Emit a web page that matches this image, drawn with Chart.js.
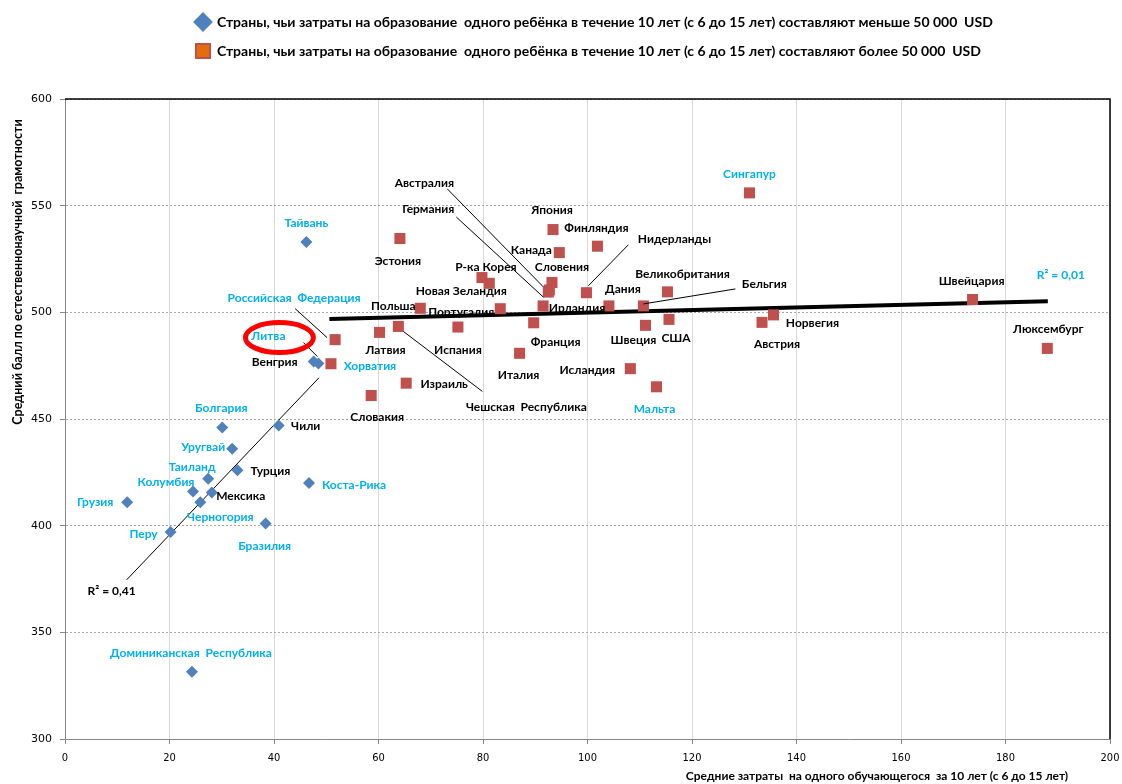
<!DOCTYPE html>
<html>
<head>
<meta charset="utf-8">
<script src="https://cdn.jsdelivr.net/npm/chart.js@4.4.1/dist/chart.umd.min.js"></script>
<style>
  html, body { margin: 0; padding: 0; background: #fff; }
  #wrap { width: 1122px; height: 784px; }
</style>
</head>
<body>
<div id="wrap"><canvas id="scatter"></canvas></div>
<script>
// Countries < 50 000 USD (blue diamonds)
const lowNames = ['Тайвань', 'Литва', 'Венгрия', 'Болгария', 'Чили', 'Уругвай', 'Турция', 'Таиланд',
  'Коста-Рика', 'Колумбия', 'Мексика', 'Черногория', 'Грузия', 'Бразилия', 'Перу', 'Доминиканская  Республика'];
const lowX = [46.2, 48.5, 47.6, 30.1, 40.9, 32.0, 33.0, 27.4, 46.7, 24.5, 28.1, 25.9, 11.9, 38.4, 20.2, 24.3];
const lowY = [533, 476, 477, 446, 447, 436, 426, 422, 420, 416, 415.5, 411, 411, 401, 397, 331.5];

// Countries > 50 000 USD (red squares)
const highNames = ['Сингапур', 'Эстония', 'Р-ка Корея', 'Новая Зеландия', 'Польша', 'Португалия',
  'Российская  Федерация', 'Латвия', 'Чешская  Республика', 'Испания', 'Хорватия', 'Израиль', 'Словакия',
  'Япония', 'Финляндия', 'Канада', 'Словения', 'Австралия', 'Германия', 'Ирландия', 'Нидерланды', 'Дания',
  'Бельгия', 'Великобритания', 'Франция', 'Швеция', 'США', 'Италия', 'Исландия', 'Мальта', 'Австрия',
  'Норвегия', 'Швейцария', 'Люксембург'];
const highX = [131.0, 64.1, 79.8, 81.2, 68.0, 83.3, 51.7, 60.2, 63.8, 75.2, 50.9, 65.3, 58.6,
  93.4, 101.9, 94.6, 93.2, 92.7, 92.5, 91.5, 99.8, 104.1, 110.7, 115.3, 89.7, 111.1, 115.6, 87.0, 108.2, 113.2, 133.4,
  135.6, 173.7, 188.0];
const highY = [556, 534.6, 516.3, 513.6, 501.9, 501.7, 487.2, 490.6, 493.4, 493.1, 475.9, 466.8, 461,
  538.8, 531, 528, 514, 510.5, 509.5, 503, 509.2, 503, 503, 509.6, 495.1, 493.9, 496.7, 480.8, 473.6, 465.1, 495.3,
  498.8, 506, 483.1];

// trend lines (end points)
const lowTrendX = [11.8, 48.6];
const lowTrendY = [374.6, 469.3];
const highTrendX = [50.6, 188.1];
const highTrendY = [496.9, 505.2];
const lowR2 = 'R² = 0,41';
const highR2 = 'R² = 0,01';

const xTicks = [0, 20, 40, 60, 80, 100, 120, 140, 160, 180, 200];
const yTicks = [300, 350, 400, 450, 500, 550, 600];

const legendTexts = [
  'Страны, чьи затраты на образование  одного ребёнка в течение 10 лет (с 6 до 15 лет) составляют меньше 50 000  USD',
  'Страны, чьи затраты на образование  одного ребёнка в течение 10 лет (с 6 до 15 лет) составляют более 50 000  USD'
];
const xTitle = 'Средние затраты  на одного обучающегося  за 10 лет (с 6 до 15 лет)';
const yTitle = 'Средний балл по естественнонаучной  грамотности';

const cyanLabels = ['Тайвань', 'Литва', 'Болгария', 'Уругвай', 'Таиланд', 'Коста-Рика', 'Колумбия', 'Черногория',
  'Грузия', 'Бразилия', 'Перу', 'Доминиканская  Республика', 'Сингапур', 'Российская  Федерация', 'Хорватия', 'Мальта'];

// label offsets from the marker, px
const labelOffsets = {
  'Тайвань': [0, -19], 'Литва': [-50, -27], 'Венгрия': [-39, 1], 'Болгария': [-1, -19], 'Чили': [27, 1],
  'Уругвай': [-29, -2], 'Турция': [33, 1], 'Таиланд': [-16, -12], 'Коста-Рика': [45, 2], 'Колумбия': [-27, -9],
  'Мексика': [29, 4], 'Черногория': [20, 15], 'Грузия': [-32, 0], 'Бразилия': [-1, 23], 'Перу': [-27, 2],
  'Доминиканская  Республика': [-1, -19],
  'Сингапур': [0, -19], 'Эстония': [-2, 23], 'Р-ка Корея': [4, -10], 'Новая Зеландия': [-28, 8], 'Польша': [-27, -2],
  'Португалия': [-39, 3], 'Российская  Федерация': [-41, -42], 'Латвия': [6, 18], 'Чешская  Республика': [128, 81],
  'Испания': [0, 23], 'Хорватия': [39, 2], 'Израиль': [38, 1], 'Словакия': [6, 22], 'Япония': [-1, -19],
  'Финляндия': [-1, -18], 'Канада': [-28, -2], 'Словения': [10, -15], 'Австралия': [-125, -107],
  'Германия': [-120, -83], 'Ирландия': [34, 2], 'Нидерланды': [88, -54], 'Дания': [14, -17], 'Бельгия': [121, -22],
  'Великобритания': [15, -18], 'Франция': [22, 19], 'Швеция': [-12, 15], 'США': [7, 19], 'Италия': [-1, 22],
  'Исландия': [-43, 1], 'Мальта': [-2, 22], 'Австрия': [15, 22], 'Норвегия': [39, 8], 'Швейцария': [-1, -18],
  'Люксембург': [1, -19]
};
// leader lines: [dx1, dy1, dx2, dy2] from the marker
const leaders = {
  'Литва': [-15, -21, -1, -7],
  'Российская  Федерация': [-40, -31, -8, -2],
  'Чешская  Республика': [5, 5, 84, 65],
  'Австралия': [-102, -101, -6, -3],
  'Германия': [-92, -75, -5, 5],
  'Нидерланды': [42, -48, 2, -7],
  'Бельгия': [0, -2, 92, -17]
};

const toPts = (xs, ys) => xs.map((v, i) => ({ x: v, y: ys[i] }));

const labelPlugin = {
  id: 'pointLabels',
  afterDatasetsDraw(chart) {
    const { ctx } = chart;
    ctx.save();
    ctx.font = 'bold 12px Lato';
    ctx.textAlign = 'center';
    ctx.textBaseline = 'middle';
    ctx.lineWidth = 1;
    ctx.strokeStyle = '#000';
    [[0, lowNames], [1, highNames]].forEach(([di, names]) => {
      const meta = chart.getDatasetMeta(di);
      names.forEach((n, i) => {
        const el = meta.data[i];
        const off = labelOffsets[n] || [0, -18];
        ctx.fillStyle = cyanLabels.includes(n) ? '#00B0F0' : '#000';
        ctx.fillText(n, el.x + off[0], el.y + off[1]);
        const ld = leaders[n];
        if (ld) {
          ctx.beginPath();
          ctx.moveTo(el.x + ld[0], el.y + ld[1]);
          ctx.lineTo(el.x + ld[2], el.y + ld[3]);
          ctx.stroke();
        }
        if (n === 'Литва') {
          ctx.save();
          ctx.strokeStyle = '#FF0000';
          ctx.lineWidth = 5;
          ctx.beginPath();
          ctx.ellipse(el.x - 39, el.y - 26, 34, 15, 0, 0, Math.PI * 2);
          ctx.stroke();
          ctx.restore();
        }
      });
    });
    // R² labels next to the trend line ends
    const lowEnd = chart.getDatasetMeta(2).data[0];
    const highEnd = chart.getDatasetMeta(3).data[1];
    ctx.fillStyle = '#000';
    ctx.fillText(lowR2, lowEnd.x - 15, lowEnd.y + 11);
    ctx.fillStyle = '#00B0F0';
    ctx.fillText(highR2, highEnd.x + 13, highEnd.y - 26);
    ctx.restore();
  },
  afterDraw(chart) {
    const { ctx, chartArea: a } = chart;
    ctx.save();
    // top and right frame
    ctx.strokeStyle = '#000';
    ctx.lineWidth = 1.5;
    ctx.beginPath();
    ctx.moveTo(a.left, a.top);
    ctx.lineTo(a.right, a.top);
    ctx.lineTo(a.right, a.bottom);
    ctx.stroke();
    // axis titles
    ctx.fillStyle = '#000';
    ctx.font = 'bold 12px Lato';
    ctx.textBaseline = 'middle';
    ctx.textAlign = 'center';
    ctx.fillText(xTitle, 877, 776);
    ctx.font = 'bold 12.5px Lato';
    ctx.translate(18, 272);
    ctx.rotate(-Math.PI / 2);
    ctx.fillText(yTitle, 0, 0);
    ctx.restore();
  }
};

const sizePlugin = {
  id: 'legendSize',
  beforeInit(chart) {
    const fit = chart.legend.fit;
    chart.legend.fit = function () {
      fit.bind(chart.legend)();
      this.height = 99;
    };
  },
  afterLayout(chart) {
    // legend rows start at x≈196 like in the source picture
    const lg = chart.legend;
    const w = lg.right - lg.left;
    lg.left = 181;
    lg.right = 181 + w;
  }
};

new Chart(document.getElementById('scatter'), {
  type: 'scatter',
  data: {
    datasets: [
      { label: legendTexts[0], data: toPts(lowX, lowY), pointStyle: 'rectRot', pointRadius: 6, pointHoverRadius: 6,
        backgroundColor: '#4F81BD', borderColor: '#4F81BD', borderWidth: 0 },
      { label: legendTexts[1], data: toPts(highX, highY), pointStyle: 'rect', pointRadius: 7.8, pointHoverRadius: 7.8,
        backgroundColor: '#C0504D', borderColor: '#C0504D', borderWidth: 0 },
      { label: 'trendLow', data: toPts(lowTrendX, lowTrendY), showLine: true, borderColor: '#000', borderWidth: 1,
        pointRadius: 0, pointHoverRadius: 0 },
      { label: 'trendHigh', data: toPts(highTrendX, highTrendY), showLine: true, borderColor: '#000', borderWidth: 4,
        pointRadius: 0, pointHoverRadius: 0 }
    ]
  },
  options: {
    responsive: true, maintainAspectRatio: false, animation: false,
    layout: { padding: { left: 0, right: 12, top: 0, bottom: 0 } },
    plugins: {
      tooltip: { enabled: false },
      legend: {
        position: 'top',
        align: 'start',
        labels: {
          usePointStyle: true,
          color: '#000',
          font: { family: 'Lato', size: 14, weight: 'bold' },
          padding: 15,
          generateLabels: () => [
            { text: legendTexts[0], pointStyle: 'rectRot', fillStyle: '#4F81BD', strokeStyle: '#4F81BD', lineWidth: 0, datasetIndex: 0, hidden: false },
            { text: legendTexts[1], pointStyle: 'rect', fillStyle: '#E46C0A', strokeStyle: '#C0504D', lineWidth: 2, datasetIndex: 1, hidden: false }
          ]
        }
      }
    },
    scales: {
      x: {
        type: 'linear', min: 0, max: 200,
        afterFit: s => { s.height = 45; s.paddingLeft = 0; s.paddingRight = 0; },
        afterBuildTicks: s => { s.ticks = xTicks.map(v => ({ value: v })); },
        ticks: { color: '#000', padding: 8, font: { family: 'DejaVu Sans Condensed', size: 11 } },
        grid: { color: '#D9D9D9', tickColor: '#868686', tickLength: 5 },
        border: { color: '#868686', width: 1 }
      },
      y: {
        type: 'linear', min: 300, max: 600,
        afterFit: s => { s.width = 65; s.paddingTop = 0; s.paddingBottom = 0; },
        afterBuildTicks: s => { s.ticks = yTicks.map(v => ({ value: v })); },
        ticks: { color: '#000', padding: 8, font: { family: 'DejaVu Sans', size: 11 } },
        grid: { color: '#A6A6A6', tickColor: '#868686', tickLength: 5 },
        border: { color: '#868686', width: 1, dash: [2, 2] }
      }
    }
  },
  plugins: [sizePlugin, labelPlugin]
});
</script>
</body>
</html>
